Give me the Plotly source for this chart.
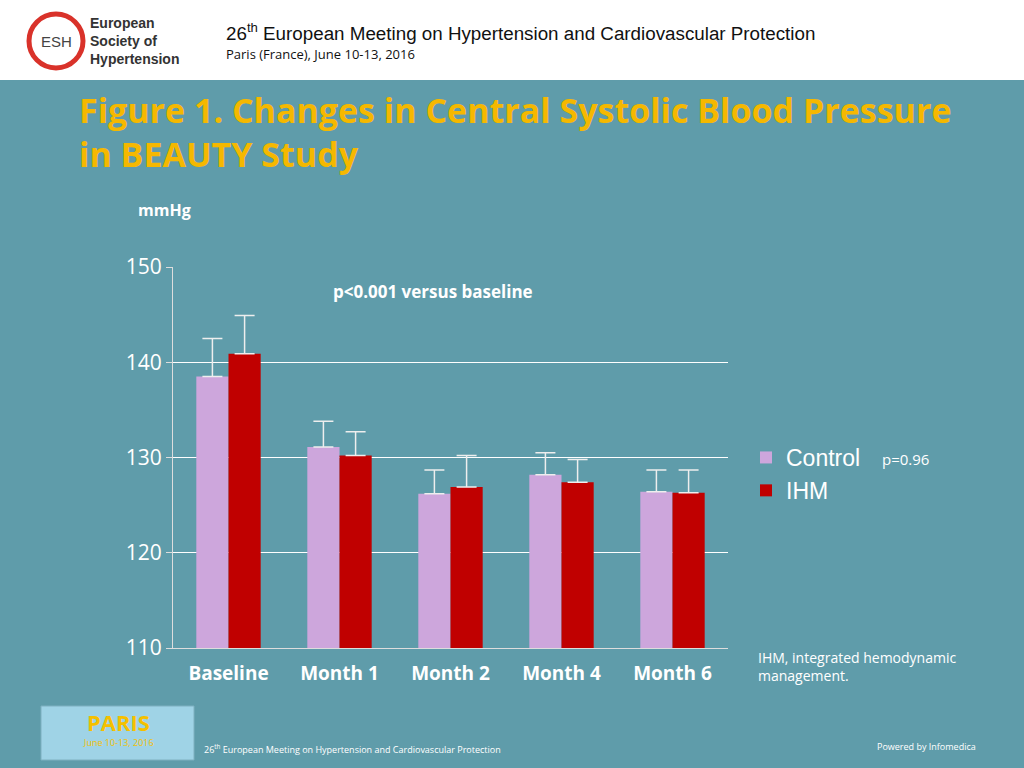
import plotly.graph_objects as go

categories = ["Baseline", "Month 1", "Month 2", "Month 4", "Month 6"]
control = [138.5, 131.1, 126.2, 128.2, 126.4]
control_err = [4.0, 2.7, 2.5, 2.3, 2.3]
ihm = [140.9, 130.2, 126.9, 127.4, 126.3]
ihm_err = [4.0, 2.5, 3.3, 2.4, 2.4]

L, R, T, B = 173, 728, 267, 648
W, H = 1024, 768
def px(x): return (x - L) / (R - L)
def py(y): return (B - y) / (B - T)

BG = "#5f9caa"
fig = go.Figure()
fig.add_bar(name="Control", x=categories, y=[v - 110 for v in control], base=110,
            marker_color="#cda6dc", marker_line_width=0,
            error_y=dict(type="data", array=control_err, arrayminus=[0]*5, symmetric=False,
                         color="#eeeeee", thickness=1.5, width=10))
fig.add_bar(name="IHM", x=categories, y=[v - 110 for v in ihm], base=110,
            marker_color="#c00000", marker_line_width=0,
            error_y=dict(type="data", array=ihm_err, arrayminus=[0]*5, symmetric=False,
                         color="#eeeeee", thickness=1.5, width=10))

fig.update_layout(
    width=W, height=H, paper_bgcolor=BG, plot_bgcolor=BG,
    margin=dict(l=L, r=W - R, t=T, b=H - B),
    barmode="group", bargap=0.42, bargroupgap=0,
    font=dict(family="Open Sans", color="white"),
    showlegend=True,
    legend=dict(x=px(746), y=py(436), xanchor="left", yanchor="top",
                font=dict(family="Liberation Sans", size=23, color="white"),
                bgcolor="rgba(0,0,0,0)", itemwidth=30),
    xaxis=dict(tickfont=dict(size=19, family="Open Sans", weight="bold"),
               showline=True, linecolor="#dddddd", ticks="", showgrid=False,
               ticklabelstandoff=8),
    yaxis=dict(range=[110, 150], dtick=10, tickfont=dict(size=21, family="Open Sans"),
               showgrid=True, gridcolor="white", gridwidth=1.2, zeroline=False,
               showline=True, linecolor="#dddddd", ticks="outside", ticklen=6,
               tickcolor="#dddddd"),
)

shapes = []
shapes.append(dict(type="rect", xref="paper", yref="paper", x0=px(0), x1=px(W), y0=py(80), y1=py(0),
                   fillcolor="white", line_width=0, layer="below"))
shapes.append(dict(type="circle", xref="paper", yref="paper", x0=px(29), x1=px(83), y0=py(68), y1=py(14),
                   line=dict(color="#d9322a", width=5), fillcolor="white"))
shapes.append(dict(type="rect", xref="paper", yref="paper", x0=px(41), x1=px(194), y0=py(760), y1=py(706),
                   fillcolor="#9fd3e6", line=dict(color="#7fb0c0", width=1)))
fig.update_layout(shapes=shapes)

def ann(x, y, text, size, color="white", bold=False, family="Open Sans", anchor="left", yanchor="middle"):
    fig.add_annotation(xref="paper", yref="paper", x=px(x), y=py(y), text=text, showarrow=False,
                       xanchor=anchor, yanchor=yanchor, align="left",
                       font=dict(size=size, color=color, family=family, weight="bold" if bold else "normal"))

ann(56, 41, "ESH", 15, color="#444444", anchor="center", family="Liberation Sans")
ann(88, 41, "European<br>Society of<br>Hypertension", 14, color="#333333", bold=True, family="Liberation Sans")
ann(224, 32, "26<sup>th</sup> European Meeting on Hypertension and Cardiovascular Protection", 18.8,
    color="#111111", family="Liberation Sans")
ann(224, 54, "Paris (France), June 10-13, 2016", 13, color="#111111")
ann(77, 132, "Figure 1. Changes in Central Systolic Blood Pressure<br>in BEAUTY Study", 34,
    color="#f5b800", bold=True)
ann(136, 210, "mmHg", 16, bold=True)
ann(331, 291, "p<0.001 versus baseline", 17, bold=True)
ann(880, 459, "p=0.96", 15)
ann(756, 666, "IHM, integrated hemodynamic<br>management.", 14)
ann(118, 722, "PARIS", 22, color="#f5c000", bold=True, anchor="center")
ann(118, 742, "June 10-13, 2016", 9, color="#f5c000", anchor="center")
ann(202, 749, "26<sup>th</sup> European Meeting on Hypertension and Cardiovascular Protection", 9)
ann(978, 746, "Powered by Infomedica", 9, anchor="right")

fig.write_html("out.html", config={"displayModeBar": False},
               post_script="document.body.style.margin='0';document.body.style.overflow='hidden';")
